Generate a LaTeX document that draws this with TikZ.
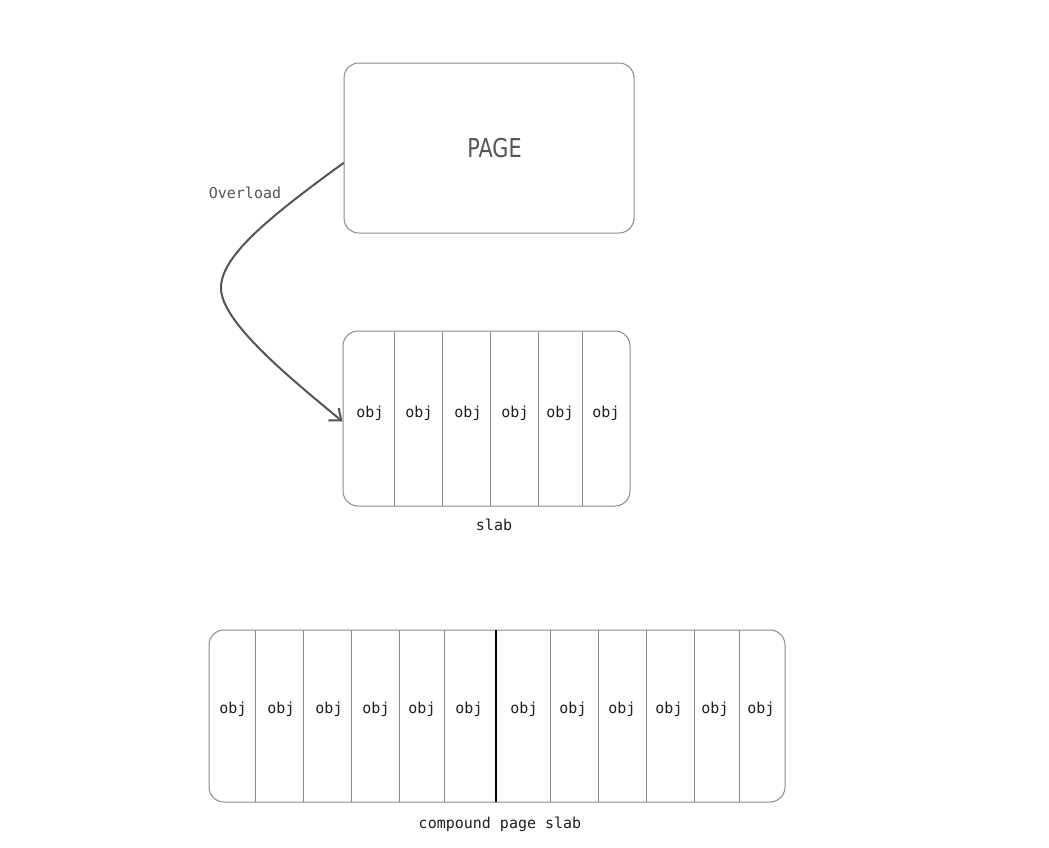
\documentclass[tikz,border=0pt]{standalone}
\usepackage{fontspec}
\usetikzlibrary{arrows.meta}
\newfontfamily\monofont{DejaVu Sans Mono}
\newfontfamily\pagefont[FakeStretch=0.8]{DejaVu Sans}
\definecolor{boxgray}{HTML}{8A8A8A}
\definecolor{inkgray}{HTML}{555555}
\definecolor{ink}{HTML}{1E1E1E}
\tikzset{
  box/.style={draw=boxgray, line width=1pt, rounded corners=15pt, inner sep=0pt},
  cell/.style={draw=boxgray, line width=1pt},
  obj/.style={font=\monofont\fontsize{15}{18}\selectfont, text=ink},
}
\begin{document}
\begin{tikzpicture}[x=1pt, y=-1pt]
        \useasboundingbox (0,0) rectangle (1049,847);
        % page
        \node[box, minimum width=290pt, minimum height=170pt] (page) at (489,148) {};
        \node[font=\pagefont\fontsize{26}{30}\selectfont, text=inkgray] (pagename) at (494.5,148) {PAGE};
        % slab
        \node[box, minimum width=287pt, minimum height=175pt] (slab) at (486.5,418.5) {};
        \foreach \x in {394,442,490,538,582} \draw[cell] (\x,331) -- (\x,506);
        \foreach \x [count=\i] in {370,419,468,515,560,606} \node[obj] (s\i) at (\x,413) {obj};
        \node[obj] (slabname) at (494,525) {slab};
        % compound page slab
        \node[box, minimum width=576pt, minimum height=172pt] (comp) at (497,716) {};
        \foreach \x in {255,303,351,399,444,550,598,646,694,739} \draw[cell] (\x,630) -- (\x,802);
        \draw[line width=2pt, black] (496,630) -- (496,802);
        \foreach \x [count=\i] in {233,281,329,376,422,469,524,573,622,669,715,761} \node[obj] (c\i) at (\x,709) {obj};
        \node[obj] (compname) at (500,824) {compound page slab};
        % overload arrow
        \draw[-{Straight Barb[length=10pt,width=16pt]}, line width=2pt, inkgray, line cap=round]
          ([yshift=-15pt]page.west) .. controls (262,222) and (221,258) .. (221,288)
          .. controls (221,322) and (290,378) .. ([yshift=-3pt]slab.west);
        \node[obj, text=inkgray] (over) at (245,193) {Overload};
\end{tikzpicture}
\end{document}
